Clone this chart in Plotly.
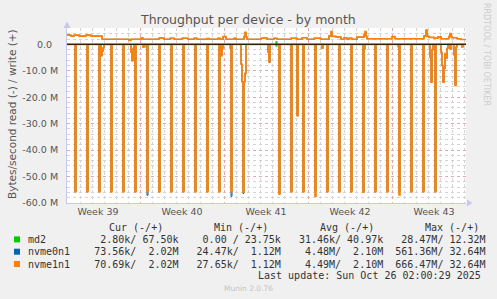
import plotly.graph_objects as go

# ---------------- data (MB/s, read shown negative, write positive) ----------------
read_times = [
    "2025-09-22 22:00",
    "2025-09-23 14:00", "2025-09-23 16:00",
    "2025-09-24 14:00", "2025-09-24 16:00",
    "2025-09-25 14:00", "2025-09-25 16:00",
    "2025-09-25 18:00", "2025-09-25 20:00", "2025-09-25 22:00", "2025-09-26 00:00",
    "2025-09-26 14:00", "2025-09-26 16:00",
    "2025-09-27 14:00", "2025-09-27 16:00",
    "2025-09-28 06:00", "2025-09-28 08:00", "2025-09-28 10:00", "2025-09-28 12:00",
    "2025-09-28 14:00", "2025-09-28 16:00",
    "2025-09-29 06:00", "2025-09-29 08:00",
    "2025-09-29 14:00", "2025-09-29 16:00",
    "2025-09-30 14:00", "2025-09-30 16:00",
    "2025-10-01 14:00", "2025-10-01 16:00",
    "2025-10-02 14:00", "2025-10-02 16:00",
    "2025-10-03 14:00", "2025-10-03 16:00",
    "2025-10-04 14:00", "2025-10-04 16:00",
    "2025-10-05 14:00", "2025-10-05 16:00",
    "2025-10-05 18:00", "2025-10-05 20:00", "2025-10-05 22:00",
    "2025-10-06 14:00", "2025-10-06 16:00",
    "2025-10-07 10:00", "2025-10-07 12:00", "2025-10-07 14:00", "2025-10-07 16:00", "2025-10-07 18:00", "2025-10-07 20:00",
    "2025-10-09 16:00", "2025-10-09 18:00", "2025-10-09 20:00",
    "2025-10-10 14:00", "2025-10-10 16:00",
    "2025-10-11 14:00", "2025-10-11 16:00",
    "2025-10-12 02:00", "2025-10-12 04:00",
    "2025-10-12 14:00", "2025-10-12 16:00",
    "2025-10-13 14:00", "2025-10-13 16:00",
    "2025-10-14 04:00", "2025-10-14 06:00",
    "2025-10-14 14:00", "2025-10-14 16:00",
    "2025-10-15 14:00", "2025-10-15 16:00",
    "2025-10-16 14:00", "2025-10-16 16:00",
    "2025-10-17 14:00", "2025-10-17 16:00", "2025-10-17 18:00",
    "2025-10-18 14:00", "2025-10-18 16:00",
    "2025-10-19 14:00", "2025-10-19 16:00",
    "2025-10-20 14:00", "2025-10-20 16:00",
    "2025-10-21 14:00", "2025-10-21 16:00",
    "2025-10-22 14:00", "2025-10-22 16:00",
    "2025-10-23 04:00", "2025-10-23 06:00", "2025-10-23 08:00", "2025-10-23 10:00",
    "2025-10-23 14:00", "2025-10-23 16:00",
    "2025-10-24 02:00", "2025-10-24 04:00", "2025-10-24 06:00", "2025-10-24 08:00",
    "2025-10-24 10:00", "2025-10-24 12:00", "2025-10-24 14:00", "2025-10-24 16:00",
    "2025-10-24 20:00", "2025-10-24 22:00",
    "2025-10-25 04:00", "2025-10-25 06:00", "2025-10-25 08:00", "2025-10-25 10:00",
    "2025-10-25 20:00", "2025-10-25 22:00",
    "2025-10-26 04:00",
]

nvme1n1_read = [
    0.07,
    55.7, 0.07,
    55.7, 0.07,
    55.7, 0.07,
    4.3, 2.6, 1.3, 0.07,
    55.7, 0.07,
    55.7, 0.07,
    3.0, 6.2, 1.5, 0.07,
    55.7, 0.07,
    1.1, 0.07,
    55.7, 0.07,
    55.7, 0.07,
    55.7, 0.07,
    55.7, 0.07,
    55.7, 0.07,
    55.7, 0.07,
    55.7, 0.07,
    4.3, 1.5, 0.07,
    55.7, 0.07,
    7.5, 14.2, 55.9, 14.2, 11.0, 0.07,
    3.0, 6.6, 0.07,
    56.6, 0.07,
    55.7, 0.07,
    27.0, 0.07,
    55.7, 0.07,
    57.4, 0.07,
    1.5, 0.07,
    55.7, 0.07,
    55.7, 0.07,
    55.7, 0.07,
    55.9, 1.8, 0.07,
    55.7, 0.07,
    55.7, 0.07,
    57.0, 0.07,
    55.7, 0.07,
    55.7, 0.07,
    5.0, 14.3, 2.0, 0.07,
    55.7, 0.07,
    3.0, 8.0, 14.3, 9.0,
    3.5, 5.3, 1.5, 0.07,
    1.8, 0.07,
    4.0, 15.6, 1.0, 0.07,
    1.0, 0.07,
    0.07,
]

nvme0n1_read = [
    0.07,
    55.7, 0.07,
    55.7, 0.07,
    55.7, 0.07,
    4.3, 2.6, 1.3, 0.07,
    55.7, 0.07,
    55.7, 0.07,
    3.0, 6.2, 1.5, 0.07,
    55.7, 0.07,
    1.1, 0.07,
    57.1, 0.07,
    55.7, 0.07,
    55.7, 0.07,
    55.7, 0.07,
    55.7, 0.07,
    55.7, 0.07,
    55.7, 0.07,
    4.3, 1.5, 0.07,
    57.5, 0.07,
    7.5, 14.2, 56.4, 14.2, 11.0, 0.07,
    3.0, 6.9, 0.07,
    56.6, 0.07,
    55.7, 0.07,
    27.0, 0.07,
    55.7, 0.07,
    55.7, 0.07,
    1.5, 0.07,
    55.7, 0.07,
    55.7, 0.07,
    55.7, 0.07,
    55.9, 1.8, 0.07,
    55.7, 0.07,
    55.7, 0.07,
    55.8, 0.07,
    55.7, 0.07,
    55.7, 0.07,
    5.0, 14.3, 2.0, 0.07,
    55.7, 0.07,
    3.0, 8.0, 14.3, 9.0,
    3.5, 5.3, 1.5, 0.07,
    1.8, 0.07,
    4.0, 15.6, 1.0, 0.07,
    1.0, 0.07,
    0.07,
]

write_times = [
    "2025-09-22 22:00", "2025-09-23 06:00", "2025-09-23 12:00", "2025-09-23 22:00",
    "2025-09-24 12:00", "2025-09-24 22:00", "2025-09-25 20:00", "2025-09-28 02:00",
    "2025-09-28 06:00", "2025-09-29 02:00", "2025-09-29 06:00", "2025-09-30 14:00",
    "2025-10-01 00:00", "2025-10-01 12:00", "2025-10-01 20:00", "2025-10-02 12:00",
    "2025-10-03 00:00", "2025-10-03 12:00", "2025-10-03 18:00", "2025-10-04 14:00",
    "2025-10-04 18:00", "2025-10-05 12:00", "2025-10-05 16:00", "2025-10-05 22:00",
    "2025-10-06 04:00", "2025-10-06 20:00", "2025-10-07 00:00", "2025-10-07 16:00",
    "2025-10-07 18:00", "2025-10-07 20:00", "2025-10-07 22:00", "2025-10-09 02:00",
    "2025-10-09 08:00", "2025-10-09 14:00", "2025-10-10 04:00", "2025-10-10 10:00",
    "2025-10-11 14:00", "2025-10-12 02:00", "2025-10-12 12:00", "2025-10-12 22:00",
    "2025-10-13 12:00", "2025-10-14 02:00", "2025-10-14 18:00", "2025-10-14 22:00",
    "2025-10-15 00:00", "2025-10-15 08:00", "2025-10-15 18:00", "2025-10-16 00:00",
    "2025-10-16 06:00", "2025-10-16 10:00", "2025-10-16 16:00", "2025-10-17 02:00",
    "2025-10-17 16:00", "2025-10-17 18:00", "2025-10-17 20:00", "2025-10-17 22:00",
    "2025-10-20 00:00", "2025-10-20 06:00", "2025-10-22 16:00", "2025-10-22 20:00",
    "2025-10-22 22:00", "2025-10-23 02:00", "2025-10-23 12:00", "2025-10-23 20:00",
    "2025-10-24 02:00", "2025-10-24 18:00", "2025-10-24 20:00", "2025-10-24 22:00",
    "2025-10-25 00:00", "2025-10-25 10:00", "2025-10-25 18:00", "2025-10-26 04:00",
]

nvme1n1_write = [
    3.5, 3.1, 3.45, 3.1,
    3.45, 3.1, 1.9, 1.5,
    1.9, 2.4, 1.9, 2.35,
    1.9, 2.3, 1.9, 2.3,
    1.9, 2.3, 1.9, 2.2,
    1.9, 2.3, 1.9, 2.9,
    1.9, 2.3, 1.9, 3.0,
    4.5, 2.8, 1.9, 2.3,
    2.5, 1.9, 2.3, 1.9,
    2.3, 1.9, 2.5, 1.9,
    2.3, 1.9, 3.2, 4.8,
    3.0, 2.7, 1.9, 2.5,
    1.9, 2.3, 1.9, 2.7,
    3.6, 4.8, 3.0, 2.1,
    2.9, 2.1, 3.2, 5.4,
    3.0, 2.6, 2.3, 2.8,
    2.1, 3.0, 4.1, 2.8,
    2.5, 2.1, 1.8, 1.8,
]
nvme0n1_write = nvme1n1_write

md2_times = [
    "2025-09-22 22:00", "2025-09-29 12:00", "2025-09-29 14:00", "2025-10-06 12:00",
    "2025-10-06 14:00", "2025-10-10 08:00", "2025-10-10 10:00", "2025-10-13 14:00",
    "2025-10-13 16:00", "2025-10-20 12:00", "2025-10-20 14:00", "2025-10-26 04:00",
]
md2_read = [0.0, 1.0, 0.0, 1.5, 0.0, 0.6, 0.0, 1.8, 0.0, 1.0, 0.0, 0.0]
md2_write = [0.0, 0.0, 0.0, 0.0, 0.0, 0.9, 0.0, 0.0, 0.0, 0.0, 0.0, 0.0]

y_tickvals = [-60e6, -50e6, -40e6, -30e6, -20e6, -10e6, 0]
y_ticktext = ["-60.0 M", "-50.0 M", "-40.0 M", "-30.0 M", "-20.0 M", "-10.0 M", "0.0\u00a0\u00a0"]

legend_labels = ["md2", "nvme0n1", "nvme1n1"]
legend_colors = ["#00CC00", "#0066B3", "#FF8000"]
cur_vals = ["  2.80k/ 67.50k", " 73.56k/  2.02M", " 70.69k/  2.02M"]
min_vals = ["  0.00 / 23.75k", " 24.47k/  1.12M", " 27.65k/  1.12M"]
avg_vals = [" 31.46k/ 40.97k", "  4.48M/  2.10M", "  4.49M/  2.10M"]
max_vals = [" 28.47M/ 12.32M", "561.36M/ 32.64M", "666.47M/ 32.64M"]

# ---------------- layout geometry ----------------
W, H = 497, 299
L, R, T, B = 67, 31, 28, 96
PW, PH = W - L - R, H - T - B


def px(x):
    return (x - L) / PW


def py(y):
    return (H - B - y) / PH


fig = go.Figure()

series = [
    (md2_times, md2_read, md2_write, legend_colors[0], 1.2),
    (read_times, nvme0n1_read, None, legend_colors[1], 1.0),
    (write_times, None, nvme0n1_write, legend_colors[1], 1.0),
    (read_times, nvme1n1_read, None, legend_colors[2], 1.6),
    (write_times, None, nvme1n1_write, legend_colors[2], 1.6),
]
for t, rd, wr, col, lw in series:
    if rd is not None:
        fig.add_trace(go.Scatter(x=t, y=[-v * 1e6 for v in rd], mode="lines",
                                 line=dict(color=col, width=lw, shape="hv"),
                                 hoverinfo="skip"))
    if wr is not None:
        fig.add_trace(go.Scatter(x=t, y=[v * 1e6 for v in wr], mode="lines",
                                 line=dict(color=col, width=lw, shape="hv"),
                                 hoverinfo="skip"))

tick_font = dict(family="DejaVu Sans", size=9.5, color="#555555")
axis_col = "#c8c8ec"
major_grid = "#e6a8a8"
minor_grid = "#d4d4d4"

fig.update_xaxes(
    type="date",
    range=["2025-09-22 22:00", "2025-10-26 04:00"],
    tick0="2025-09-22", dtick=7 * 86400000,
    ticklabelmode="period", tickformat="Week %V",
    showgrid=True, gridcolor=major_grid, griddash="dot", gridwidth=1,
    minor=dict(dtick=86400000, tick0="2025-09-22", showgrid=True,
               gridcolor=minor_grid, griddash="dot", gridwidth=1),
    showline=True, linecolor=axis_col, linewidth=1,
    zeroline=False, ticks="", tickfont=tick_font,
)
fig.update_yaxes(
    range=[-60e6, 6.16e6],
    tickvals=y_tickvals, ticktext=y_ticktext,
    showgrid=True, gridcolor=major_grid, griddash="dot", gridwidth=1,
    minor=dict(dtick=2e6, tick0=0, showgrid=True,
               gridcolor=minor_grid, griddash="dot", gridwidth=1),
    showline=True, linecolor=axis_col, linewidth=1,
    zeroline=False, ticks="", tickfont=tick_font, ticklabelstandoff=6,
)

shapes = [
    dict(type="line", xref="paper", yref="y", x0=0, x1=1, y0=0, y1=0,
         line=dict(color="black", width=1), layer="above"),
    # axis arrows
    dict(type="path", xref="paper", yref="paper",
         path=f"M {px(467)} {py(199.5)} L {px(472.5)} {py(203)} L {px(467)} {py(206.5)} Z",
         fillcolor=axis_col, line=dict(width=0)),
    dict(type="path", xref="paper", yref="paper",
         path=f"M {px(63.5)} {py(28)} L {px(67)} {py(21.5)} L {px(70.5)} {py(28)} Z",
         fillcolor=axis_col, line=dict(width=0)),
]

ann = []
ann.append(dict(text="Throughput per device - by month", x=px(248), y=py(19),
                xref="paper", yref="paper", showarrow=False,
                xanchor="center", yanchor="middle",
                font=dict(family="DejaVu Sans", size=12.5, color="#555555")))
ann.append(dict(text="Bytes/second read (-) / write (+)", x=px(12), y=py(114),
                xref="paper", yref="paper", showarrow=False, textangle=-90,
                xanchor="center", yanchor="middle",
                font=dict(family="DejaVu Sans", size=10.5, color="#555555")))
ann.append(dict(text="RRDTOOL / TOBI OETIKER", x=px(487), y=py(54),
                xref="paper", yref="paper", showarrow=False, textangle=90,
                xanchor="center", yanchor="middle",
                font=dict(family="DejaVu Sans", size=8, color="#cccccc")))

mono = dict(family="DejaVu Sans Mono", size=10, color="#333333")
for hx, ht in zip([107, 212, 318, 423], ["Cur (-/+)", "Min (-/+)", "Avg (-/+)", "Max (-/+)"]):
    ann.append(dict(text=ht.replace(" ", "\u00a0"), x=px(hx), y=py(227.7),
                    xref="paper", yref="paper", showarrow=False,
                    xanchor="left", yanchor="middle", font=mono))

row_y = [239.4, 251.7, 264.0]
for i, lab in enumerate(legend_labels):
    row = f"{lab:<10}{cur_vals[i]}  {min_vals[i]}  {avg_vals[i]}  {max_vals[i]}"
    ann.append(dict(text=row.replace(" ", "\u00a0"), x=px(26), y=py(row_y[i]),
                    xref="paper", yref="paper", showarrow=False,
                    xanchor="left", yanchor="middle", font=mono))
    shapes.append(dict(type="rect", xref="paper", yref="paper",
                       x0=px(14), x1=px(20), y0=py(row_y[i] - 3), y1=py(row_y[i] + 3),
                       fillcolor=legend_colors[i], line=dict(width=0)))

ann.append(dict(text="Last update: Sun Oct 26 02:00:29 2025".replace(" ", "\u00a0"),
                x=px(483), y=py(275.3), xref="paper", yref="paper", showarrow=False,
                xanchor="right", yanchor="middle", font=mono))
ann.append(dict(text="Munin 2.0.76", x=px(248), y=py(288.5), xref="paper", yref="paper",
                showarrow=False, xanchor="center", yanchor="middle",
                font=dict(family="DejaVu Sans", size=7.5, color="#c4c4c4")))

fig.update_layout(
    width=W, height=H,
    margin=dict(l=L, r=R, t=T, b=B, pad=0),
    paper_bgcolor="#F0F0F0", plot_bgcolor="white",
    showlegend=False, annotations=ann, shapes=shapes,
)

assert len(read_times) == len(nvme1n1_read) == len(nvme0n1_read)
assert len(write_times) == len(nvme1n1_write)

fig.write_html("out.html")
